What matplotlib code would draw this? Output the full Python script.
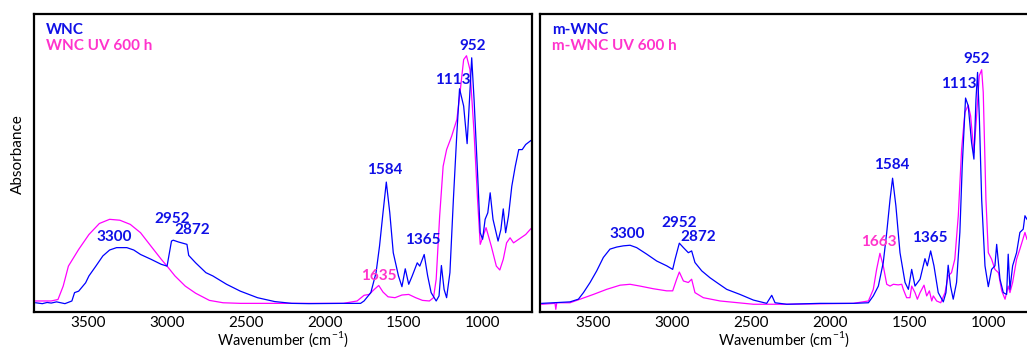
import matplotlib.pyplot as plt

plt.rcParams['font.family'] = ['Lato', 'DejaVu Sans']
plt.rcParams['mathtext.fontset'] = 'custom'
plt.rcParams['mathtext.rm'] = 'Lato'

BLUE = '#0000FF'
MAGENTA = '#FF00FF'
BLUE_TXT = '#1010E6'
PINK_TXT = '#FF33CC'

# --- WNC (left panel) ---
wnc_wn = [3832, 3790, 3760, 3734, 3700, 3647, 3603, 3586, 3560, 3516, 3495, 3451, 3407,
          3364, 3320, 3255, 3211, 3168, 3102, 3037, 3000, 2972, 2961, 2928, 2874, 2863,
          2819, 2754, 2710, 2623, 2536, 2427, 2318, 2210, 2101, 1883, 1774, 1752, 1709,
          1676, 1654, 1632, 1611, 1589, 1567, 1534, 1512, 1491, 1469, 1447, 1415, 1399,
          1371, 1349, 1327, 1295, 1277, 1262, 1245, 1229, 1208, 1186, 1164, 1147, 1121,
          1099, 1084, 1070, 1055, 1033, 1016, 1001, 985, 968, 953, 935, 903, 885, 870,
          855, 837, 816, 794, 772, 750, 728, 696]
wnc_abs = [0.031, 0.028, 0.032, 0.030, 0.034, 0.028, 0.037, 0.065, 0.070, 0.098, 0.121,
           0.154, 0.188, 0.208, 0.216, 0.216, 0.208, 0.193, 0.177, 0.160, 0.154, 0.238,
           0.241, 0.235, 0.227, 0.190, 0.165, 0.132, 0.121, 0.093, 0.070, 0.048, 0.035,
           0.029, 0.028, 0.029, 0.029, 0.037, 0.065, 0.132, 0.221, 0.333, 0.436, 0.333,
           0.199, 0.121, 0.085, 0.145, 0.093, 0.121, 0.165, 0.154, 0.193, 0.121, 0.065,
           0.037, 0.054, 0.156, 0.076, 0.048, 0.132, 0.378, 0.601, 0.749, 0.691, 0.565,
           0.713, 0.853, 0.713, 0.467, 0.266, 0.244, 0.311, 0.333, 0.400, 0.311, 0.238,
           0.277, 0.346, 0.266, 0.322, 0.422, 0.489, 0.545, 0.545, 0.562, 0.575]

wnc_uv_wn = [3832, 3734, 3691, 3658, 3625, 3560, 3495, 3429, 3364, 3299, 3233, 3168, 3102,
             3037, 3000, 2950, 2885, 2819, 2732, 2645, 2536, 2318, 1883, 1796, 1752, 1720,
             1687, 1659, 1632, 1600, 1556, 1512, 1469, 1425, 1382, 1338, 1312, 1295, 1273,
             1251, 1229, 1197, 1164, 1142, 1121, 1103, 1081, 1055, 1033, 1016, 979, 946,
             914, 892, 870, 849, 827, 805, 772, 728, 696]
wnc_uv_abs = [0.037, 0.037, 0.042, 0.087, 0.154, 0.210, 0.260, 0.297, 0.311, 0.308, 0.294,
              0.266, 0.221, 0.177, 0.154, 0.121, 0.087, 0.063, 0.039, 0.031, 0.029, 0.029,
              0.029, 0.037, 0.056, 0.059, 0.076, 0.089, 0.067, 0.051, 0.048, 0.057, 0.059,
              0.048, 0.039, 0.037, 0.048, 0.110, 0.322, 0.489, 0.545, 0.590, 0.646, 0.746,
              0.847, 0.860, 0.813, 0.601, 0.378, 0.227, 0.283, 0.221, 0.154, 0.141, 0.177,
              0.232, 0.249, 0.232, 0.244, 0.260, 0.279]

# --- m-WNC (right panel) ---
mwnc_wn = [3827, 3753, 3648, 3595, 3563, 3521, 3479, 3437, 3395, 3352, 3310, 3268, 3226,
           3162, 3099, 3036, 2998, 2983, 2956, 2930, 2899, 2878, 2857, 2814, 2762, 2719,
           2656, 2572, 2487, 2403, 2371, 2350, 2276, 2065, 1854, 1759, 1728, 1696, 1665,
           1643, 1622, 1606, 1585, 1559, 1527, 1506, 1485, 1464, 1432, 1401, 1386, 1365,
           1344, 1317, 1285, 1268, 1254, 1239, 1222, 1201, 1180, 1165, 1144, 1127, 1106,
           1091, 1078, 1068, 1057, 1042, 1021, 1000, 979, 958, 947, 926, 905, 884, 874,
           863, 846, 821, 800, 779, 768, 755]
mwnc_abs = [0.029, 0.031, 0.034, 0.043, 0.065, 0.099, 0.138, 0.183, 0.211, 0.218, 0.222,
            0.224, 0.216, 0.194, 0.171, 0.155, 0.143, 0.177, 0.231, 0.216, 0.199, 0.205,
            0.166, 0.138, 0.115, 0.099, 0.076, 0.059, 0.040, 0.029, 0.056, 0.031, 0.026,
            0.029, 0.029, 0.031, 0.054, 0.087, 0.166, 0.267, 0.378, 0.449, 0.356, 0.199,
            0.099, 0.076, 0.143, 0.087, 0.110, 0.179, 0.155, 0.205, 0.155, 0.065, 0.034,
            0.065, 0.157, 0.087, 0.043, 0.099, 0.267, 0.490, 0.718, 0.692, 0.569, 0.513,
            0.714, 0.804, 0.658, 0.378, 0.155, 0.085, 0.143, 0.155, 0.227, 0.110, 0.065,
            0.059, 0.194, 0.076, 0.155, 0.199, 0.267, 0.278, 0.323, 0.311]

mwnc_uv_wn = [3827, 3743, 3738, 3732, 3648, 3584, 3500, 3416, 3331, 3268, 3205, 3120, 3036,
              2998, 2973, 2956, 2930, 2899, 2878, 2857, 2804, 2698, 2487, 2276, 1854, 1759,
              1728, 1707, 1686, 1665, 1643, 1622, 1601, 1570, 1548, 1538, 1517, 1496, 1485,
              1464, 1449, 1432, 1407, 1390, 1373, 1358, 1348, 1327, 1301, 1274, 1254, 1233,
              1212, 1190, 1169, 1148, 1127, 1112, 1091, 1074, 1057, 1042, 1032, 1015, 1000,
              979, 958, 936, 915, 894, 874, 863, 846, 821, 800, 768, 755]
mwnc_uv_abs = [0.026, 0.029, 0.009, 0.031, 0.031, 0.043, 0.059, 0.076, 0.090, 0.093, 0.087,
               0.078, 0.071, 0.071, 0.110, 0.134, 0.104, 0.099, 0.110, 0.065, 0.048, 0.037,
               0.026, 0.026, 0.029, 0.037, 0.076, 0.143, 0.197, 0.155, 0.093, 0.087, 0.093,
               0.091, 0.093, 0.076, 0.048, 0.048, 0.087, 0.065, 0.043, 0.065, 0.090, 0.054,
               0.071, 0.037, 0.054, 0.037, 0.031, 0.065, 0.121, 0.132, 0.177, 0.323, 0.546,
               0.670, 0.694, 0.658, 0.535, 0.658, 0.793, 0.813, 0.737, 0.378, 0.199, 0.177,
               0.143, 0.132, 0.071, 0.043, 0.087, 0.065, 0.099, 0.177, 0.211, 0.267, 0.244]

# peak labels: text, wavenumber, absorbance, blue/pink
wnc_labels = [('952', 1066, 0.892, 'b'), ('1113', 1190, 0.780, 'b'), ('1584', 1621, 0.476, 'b'),
              ('1365', 1382, 0.241, 'b'), ('1635', 1658, 0.121, 'p'), ('2952', 2965, 0.311, 'b'),
              ('2872', 2841, 0.275, 'b'), ('3300', 3338, 0.253, 'b')]
mwnc_labels = [('952', 1074, 0.849, 'b'), ('1113', 1184, 0.765, 'b'), ('1584', 1612, 0.494, 'b'),
               ('1365', 1369, 0.250, 'b'), ('1663', 1692, 0.235, 'p'), ('2952', 2958, 0.298, 'b'),
               ('2872', 2835, 0.253, 'b'), ('3300', 3283, 0.261, 'b')]

W, H = 1027, 347
fig = plt.figure(figsize=(W / 100, H / 100), dpi=100)
ax1 = fig.add_axes([34 / W, 35 / H, 498 / W, 298 / H])
ax2 = fig.add_axes([540 / W, 35 / H, 487 / W, 298 / H])


def draw_panel(ax, wn, ab, wn_uv, ab_uv, labels, names, xlim):
    ax.plot(wn_uv, ab_uv, color=MAGENTA, lw=0.9)
    ax.plot(wn, ab, color=BLUE, lw=0.9)
    ax.set_xlim(*xlim)
    ax.set_ylim(0, 1)
    ax.set_xticks([3500, 3000, 2500, 2000, 1500, 1000])
    ax.set_yticks([])
    ax.tick_params(axis='x', length=0, pad=3, labelsize=11)
    for s in ax.spines.values():
        s.set_linewidth(1.6)
    for txt, x, y, c in labels:
        ax.text(x, y, txt, ha='center', va='center', fontsize=11, fontweight='bold',
                color=BLUE_TXT if c == 'b' else PINK_TXT)
    ax.text(0.024, 0.947, names[0], transform=ax.transAxes, ha='left', va='center',
            fontsize=11, fontweight='bold', color=BLUE_TXT)
    ax.text(0.024, 0.892, names[1], transform=ax.transAxes, ha='left', va='center',
            fontsize=11, fontweight='bold', color=PINK_TXT)
    ax.set_xlabel('Wavenumber (cm$^{\\mathregular{-1}}$)', fontsize=10.5)
    ax.xaxis.set_label_coords(0.5, -0.057)
    ax.xaxis.label.set_va('top')


draw_panel(ax1, wnc_wn, wnc_abs, wnc_uv_wn, wnc_uv_abs, wnc_labels,
           ['WNC', 'WNC UV 600 h'], (3843, 688))
draw_panel(ax2, mwnc_wn, mwnc_abs, mwnc_uv_wn, mwnc_uv_abs, mwnc_labels,
           ['m-WNC', 'm-WNC UV 600 h'], (3838, 755))
ax2.spines['right'].set_visible(False)

ax1.set_ylabel('Absorbance', fontsize=11)
ax1.yaxis.set_label_coords(-0.033, 0.53)
ax1.yaxis.label.set_va('center')

fig.savefig('out.png', dpi=100)
